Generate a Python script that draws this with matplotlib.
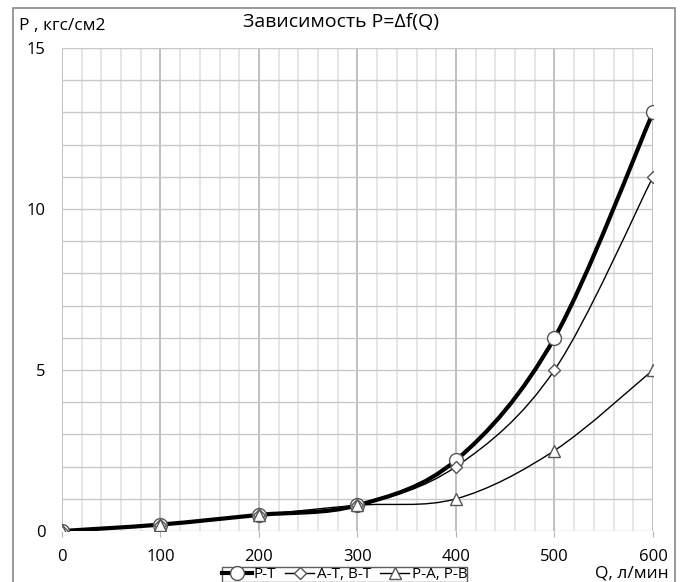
import matplotlib
matplotlib.use("Agg")
import matplotlib.pyplot as plt
from matplotlib.path import Path
from matplotlib.patches import PathPatch, Rectangle
from matplotlib.lines import Line2D
from matplotlib.ticker import MultipleLocator

plt.rcParams['font.family'] = ['Open Sans', 'DejaVu Sans']

# DATA
# =============================================================================
q = [0, 100, 200, 300, 400, 500, 600]          # Q, л/мин
p_t = [0, 0.2, 0.5, 0.8, 2.2, 6.0, 13.0]       # P-T
a_t = [0, 0.2, 0.5, 0.8, 2.0, 5.0, 11.0]       # A-T, B-T
p_a = [0, 0.2, 0.5, 0.8, 1.0, 2.5, 5.0]        # P-A, P-B
names = ["P-T", "A-T, B-T", "P-A, P-B"]
# =============================================================================


def smooth_path(xs, ys):
    # excel-like smoothed line: cubic bezier segments through the points
    pts = list(zip(xs, ys))
    verts = [pts[0]]
    codes = [Path.MOVETO]
    n = len(pts)
    for i in range(n - 1):
        p0 = pts[i - 1] if i > 0 else pts[i]
        p1 = pts[i]
        p2 = pts[i + 1]
        p3 = pts[i + 2] if i + 2 < n else pts[i + 1]
        c1 = (p1[0] + (p2[0] - p0[0]) / 6, p1[1] + (p2[1] - p0[1]) / 6)
        c2 = (p2[0] - (p3[0] - p1[0]) / 6, p2[1] - (p3[1] - p1[1]) / 6)
        verts += [c1, c2, p2]
        codes += [Path.CURVE4] * 3
    return Path(verts, codes)


fig = plt.figure(figsize=(6.87, 5.82), dpi=100)
ax = fig.add_axes([0.0902, 0.0876, 0.8603, 0.8299])

ax.set_xlim(0, 600)
ax.set_ylim(0, 15)
ax.xaxis.set_major_locator(MultipleLocator(100))
ax.xaxis.set_minor_locator(MultipleLocator(20))
ax.yaxis.set_major_locator(MultipleLocator(5))
ax.yaxis.set_minor_locator(MultipleLocator(1))

ax.grid(which='minor', axis='x', color='#e2e2e2', lw=1.2)
ax.grid(which='major', axis='x', color='#b4b4b4', lw=1.2)
ax.grid(which='both', axis='y', color='#c8c8c8', lw=1.0)
ax.set_axisbelow(True)
for s in ax.spines.values():
    s.set_visible(False)

ax.tick_params(axis='x', which='major', length=4, color='#b4b4b4', pad=9, labelsize=12)
ax.tick_params(axis='x', which='minor', length=0)
ax.tick_params(axis='y', which='both', length=0, pad=12, labelsize=12)

series = [
    (p_t, 'o', 3.0, 10),
    (a_t, 'D', 1.0, 6.5),
    (p_a, '^', 1.0, 9),
]
handles = []
for (ys, mk, lw, ms), nm in zip(series, names):
    ax.add_patch(PathPatch(smooth_path(q, ys), fill=False, edgecolor='black', lw=lw, zorder=3))
    ax.plot(q, ys, ls='none', marker=mk, ms=ms, mfc='white', mec='#555555', mew=1.0, zorder=4)
    handles.append(Line2D([], [], color='black', lw=lw, marker=mk, ms=ms, mfc='white', mec='#555555'))

fig.text(0.497, 0.962, "Зависимость P=Δf(Q)", ha='center', va='center', fontsize=14)
fig.text(0.028, 0.955, "P , кгс/см2", ha='left', va='center', fontsize=12.5)
fig.text(0.866, 0.014, "Q, л/мин", ha='left', va='center', fontsize=12.5)

fig.legend(handles, names, loc='upper center', bbox_to_anchor=(0.502, 0.026),
           ncol=3, frameon=True, fancybox=False, edgecolor='#333333',
           fontsize=11, handlelength=1.9, columnspacing=0.6, handletextpad=0.15,
           borderpad=0.0, borderaxespad=0)

fig.patches.append(Rectangle((0.019, -0.1), 0.964, 1.086, transform=fig.transFigure,
                             fill=False, edgecolor='#888888', lw=1.2))

fig.savefig("out.png", dpi=100)
